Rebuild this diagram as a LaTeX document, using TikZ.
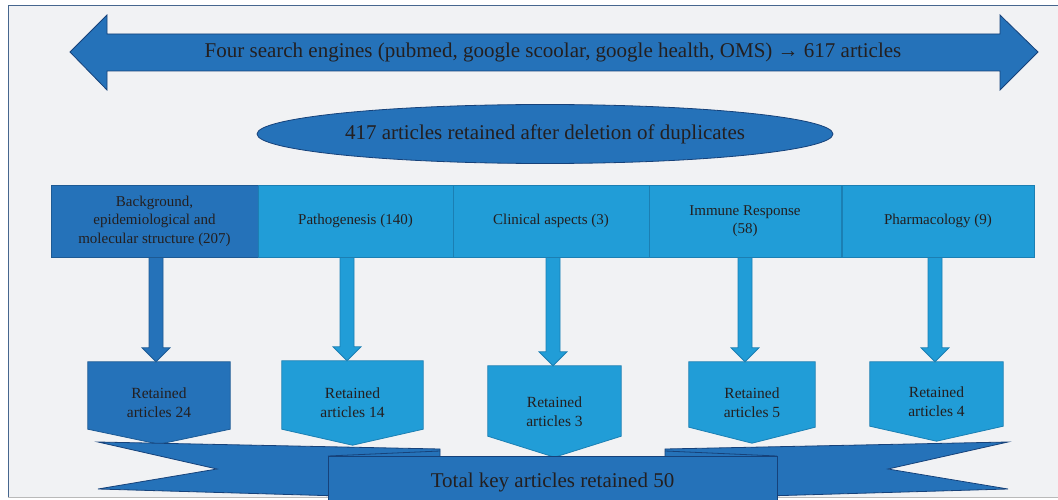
\documentclass[tikz,border=0pt]{standalone}
\usepackage{fontspec}
\setmainfont{Liberation Serif}
\usetikzlibrary{shapes.geometric,calc}
\definecolor{darkb}{HTML}{2572B9}
\definecolor{lightb}{HTML}{219DD7}
\definecolor{darkline}{HTML}{1D5A94}
\definecolor{lightline}{HTML}{1B7FB3}
\definecolor{navy}{HTML}{16427A}
\definecolor{bgc}{HTML}{F1F2F4}
\definecolor{txt}{HTML}{231F20}
\definecolor{framec}{HTML}{46668E}
\newcommand\blockarr[3]{%
  \draw[#1] ($(#2)+(-7,0)$) -- ($(#2 |- #3.north)+(-7,-14)$) -- ($(#2 |- #3.north)+(-14,-14)$)
    -- (#2 |- #3.north) -- ($(#2 |- #3.north)+(14,-14)$) -- ($(#2 |- #3.north)+(7,-14)$)
    -- ($(#2)+(7,0)$) -- cycle;}
\newcommand\pentshape[3]{%
  \draw[#3] (#1.north west) -- (#1.north east) -- ($(#1.south east)+(0,-#2)$) -- (#1.south)
    -- ($(#1.south west)+(0,-#2)$) -- cycle;}
\begin{document}
\begin{tikzpicture}[x=1pt,y=-1pt,
  catbox/.style={rectangle, inner sep=0pt, minimum height=72pt, align=center, text=txt,
    font=\fontsize{15}{18.5}\selectfont, line width=0.8pt},
  darkfill/.style={fill=darkb, draw=darkline, line width=0.8pt},
  lightfill/.style={fill=lightb, draw=lightline, line width=0.8pt},
  retarea/.style={rectangle, inner sep=0pt},
  rettext/.style={inner sep=0pt, align=center, text=txt, font=\fontsize{15.5}{19}\selectfont},
  ribbon/.style={fill=darkb, draw=navy, line width=0.8pt, line join=miter},
  bigtext/.style={text=txt, font=\fontsize{21}{25}\selectfont, inner sep=0pt}
]
\useasboundingbox (0,0) rectangle (1058,500);
\clip (0,0) rectangle (1058,500);
\fill[white] (0,0) rectangle (1058,500);
\fill[bgc] (8,6) rectangle (1070,497);
\draw[framec, line width=1pt] (8,497) -- (8,6) -- (1070,6);
\draw[gray!55, line width=1pt] (8,497) -- (1070,497);

% top double arrow
\draw[darkfill, draw=navy] (70,52) -- (107,15) -- (107,34) -- (1000,34) -- (1000,15) -- (1038,52)
  -- (1000,90) -- (1000,71) -- (107,71) -- (107,90) -- cycle;
\node[bigtext] (search) at (553,52) {Four search engines (pubmed, google scoolar, google health, OMS) → 617 articles};

% ellipse
\node[ellipse, fill=darkb, draw=navy, line width=0.8pt, minimum width=576pt, minimum height=59pt,
  inner sep=0pt, text=txt, font=\fontsize{21}{25}\selectfont] (dedup) at (545,134)
  {417 articles retained after deletion of duplicates};

% category boxes
\node[catbox, darkfill, minimum width=207pt] (c1) at (154.5,221)
  {Background,\\epidemiological and\\molecular structure (207)};
\node[catbox, lightfill, minimum width=195pt] (c2) at (355.5,221) {Pathogenesis (140)};
\node[catbox, lightfill, minimum width=196pt] (c3) at (551,221) {Clinical aspects (3)};
\node[catbox, lightfill, minimum width=192pt] (c4) at (745,221) {Immune Response\\(58)};
\node[catbox, lightfill, minimum width=192pt] (c5) at (938,221) {Pharmacology (9)};

% retained areas
\node[retarea, minimum width=142pt, minimum height=82pt] (r1) at (159,403) {};
\node[retarea, minimum width=141pt, minimum height=84pt] (r2) at (352.5,403) {};
\node[retarea, minimum width=133pt, minimum height=91pt] (r3) at (554.5,411.5) {};
\node[retarea, minimum width=126pt, minimum height=81pt] (r4) at (752,402.5) {};
\node[retarea, minimum width=133pt, minimum height=79pt] (r5) at (936.5,401.5) {};
\pentshape{r1}{15}{darkfill}
\pentshape{r2}{16}{lightfill}
\pentshape{r3}{21}{lightfill}
\pentshape{r4}{16}{lightfill}
\pentshape{r5}{15}{lightfill}
\node[rettext] (t1) at (r1) {Retained\\articles 24};
\node[rettext] (t2) at (r2) {Retained\\articles 14};
\node[rettext] (t3) at (r3) {Retained\\articles 3};
\node[rettext] (t4) at (r4) {Retained\\articles 5};
\node[rettext] (t5) at (r5) {Retained\\articles 4};

% block arrows
\coordinate (a1) at ($(c1.south)+(1.5,0)$);
\coordinate (a2) at ($(c2.south)+(-8.5,0)$);
\coordinate (a3) at ($(c3.south)+(2,0)$);
\coordinate (a4) at ($(c4.south)+(0,0)$);
\coordinate (a5) at ($(c5.south)+(-3,0)$);
\blockarr{darkfill}{a1}{r1}
\blockarr{lightfill}{a2}{r2}
\blockarr{lightfill}{a3}{r3}
\blockarr{lightfill}{a4}{r4}
\blockarr{lightfill}{a5}{r5}

% bottom ribbon
\draw[ribbon] (98,442) -- (440,449) -- (440,470) -- (340,496) -- (98,489) -- (217,469) -- cycle;
\draw[ribbon] (1008,442) -- (665,449) -- (665,470) -- (766,496) -- (1008,489) -- (888,469) -- cycle;
\draw[navy, line width=0.8pt] (328,456) -- (440,451);
\draw[navy, line width=0.8pt] (777,456) -- (665,451);
\node[rectangle, fill=darkb, draw=navy, line width=0.8pt, minimum width=449pt, minimum height=52pt,
  inner sep=0pt, text=txt, font=\fontsize{21}{25}\selectfont] (total) at (552.5,482)
  {Total key articles retained 50};
\end{tikzpicture}
\end{document}
